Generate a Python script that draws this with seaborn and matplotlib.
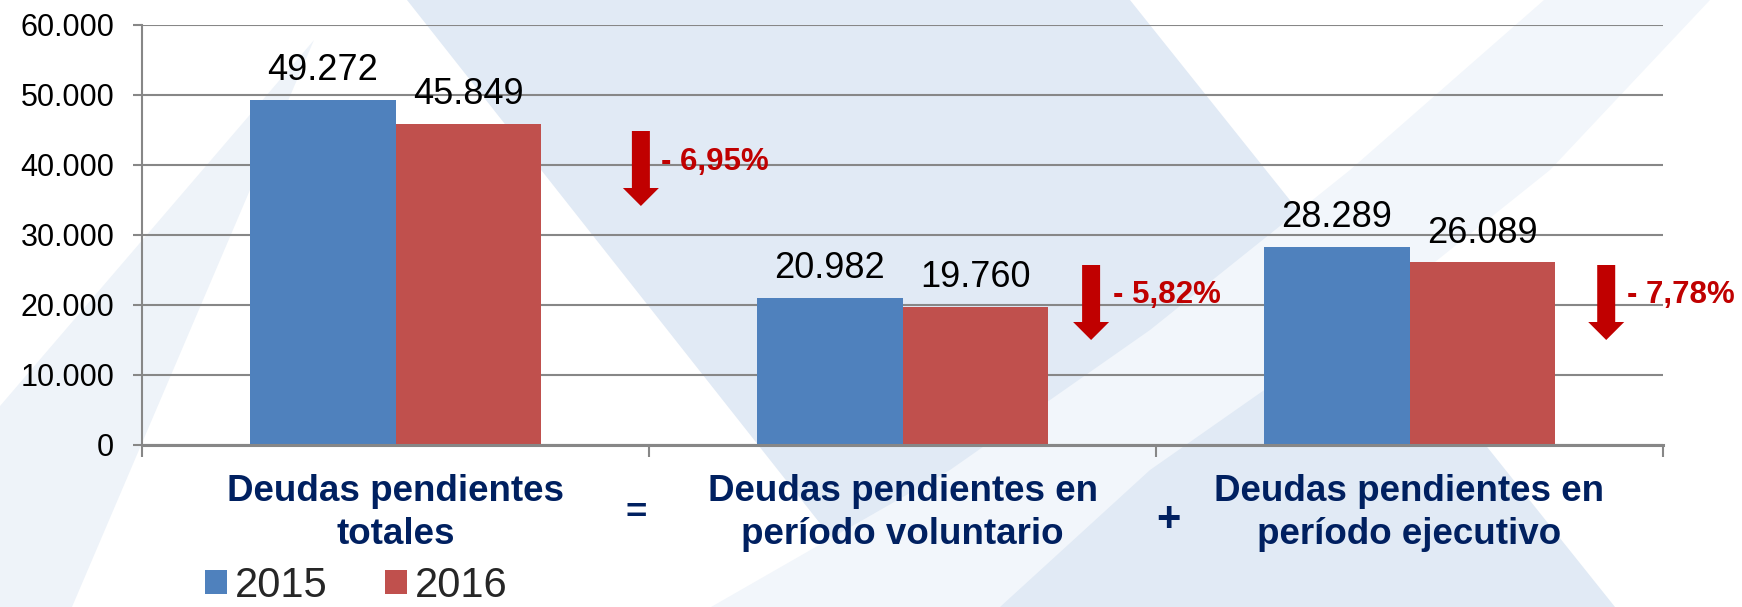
import pandas as pd
import matplotlib.pyplot as plt
import seaborn as sns
from matplotlib.patches import Polygon, Patch
from matplotlib.ticker import FuncFormatter

# datos
categorias = ["Deudas pendientes\ntotales",
              "Deudas pendientes en\nperíodo voluntario",
              "Deudas pendientes en\nperíodo ejecutivo"]
anios = ["2015", "2016"]
valores_2015 = [49272, 20982, 28289]
valores_2016 = [45849, 19760, 26089]
variaciones = ["- 6,95%", "- 5,82%", "- 7,78%"]
operadores = ["=", "+"]
yticks = [0, 10000, 20000, 30000, 40000, 50000, 60000]

colores = ["#4F81BD", "#C0504D"]
AZUL_OSCURO = "#002060"
ROJO = "#C00000"
GRIS = "#878787"

W, H = 1742, 607


def px(x, y):
    """pixel (from top-left) -> figure fraction"""
    return x / W, 1 - y / H


def miles(v, pos=None):
    return f"{int(round(v)):,}".replace(",", ".")


df = pd.DataFrame({
    "categoria": categorias * 2,
    "anio": [anios[0]] * 3 + [anios[1]] * 3,
    "valor": valores_2015 + valores_2016,
})

sns.set_theme(style="white")
plt.rcParams["font.family"] = ["Liberation Sans", "DejaVu Sans"]

fig = plt.figure(figsize=(W / 100, H / 100), dpi=100)
fig.patch.set_facecolor("white")

# decorative background bands
fondos = [
    ([(407, 0), (1130, 0), (1615, 607), (886, 607)], "#E1EAF5"),
    ([(1544, 0), (1350, 170), (1150, 330), (950, 470), (711, 607),
      (1000, 607), (1150, 470), (1350, 330), (1550, 170), (1710, 0)], "#F2F6FB"),
    ([(314, 40), (72, 607), (0, 607), (0, 406)], "#EEF3F9"),
]
for pts, col in fondos:
    fig.patches.append(Polygon([px(x, y) for x, y in pts], closed=True,
                               transform=fig.transFigure, facecolor=col,
                               edgecolor="none", zorder=-5))

ax = fig.add_axes([142 / W, 1 - 445 / H, (1663 - 142) / W, (445 - 25) / H])
ax.set_facecolor("none")

sns.barplot(data=df, x="categoria", y="valor", hue="anio", palette=colores,
            width=0.572, saturation=1, linewidth=0, legend=False, ax=ax)

ax.set_xlim(-0.5, 2.5)
ax.set_ylim(0, 60000)
ax.set_yticks(yticks)
ax.yaxis.set_major_formatter(FuncFormatter(miles))
ax.set_xlabel("")
ax.set_ylabel("")

ax.set_axisbelow(True)
ax.yaxis.grid(True, color=GRIS, linewidth=1.5)
ax.xaxis.grid(False)
for s in ["top", "right"]:
    ax.spines[s].set_visible(False)
ax.spines["left"].set_color(GRIS)
ax.spines["left"].set_linewidth(1.5)
ax.spines["bottom"].set_color(GRIS)
ax.spines["bottom"].set_linewidth(2.2)

ax.tick_params(axis="y", left=True, length=6.5, width=1.5, color=GRIS,
               pad=13.5, labelsize=22, labelcolor="black")
ax.set_xticks([0, 1, 2])
ax.set_xticklabels(categorias)
ax.set_xticks([-0.5, 0.5, 1.5, 2.5], minor=True)
ax.tick_params(axis="x", which="major", length=0, pad=21, labelsize=26.5,
               labelcolor=AZUL_OSCURO)
ax.tick_params(axis="x", which="minor", bottom=True, length=8.6, width=1.5,
               color=GRIS)
for lbl in ax.get_xticklabels():
    lbl.set_fontweight("bold")
    lbl.set_linespacing(1.3)

# value labels
for cont in ax.containers:
    ax.bar_label(cont, labels=[miles(v) for v in cont.datavalues],
                 padding=8.5, fontsize=26, color="black")

# red arrows and percentage changes
flecha_x = [0.484, 1.372, 2.388]
flecha_top = [44857, 25714, 25714]
flecha_tip = [34143, 15000, 15000]
texto_x = [0.524, 1.415, 2.429]
texto_y = [40430, 21430, 21430]
for i, txt in enumerate(variaciones):
    ax.annotate("", xy=(flecha_x[i], flecha_tip[i]),
                xytext=(flecha_x[i], flecha_top[i]),
                arrowprops=dict(arrowstyle="simple,head_length=0.648,head_width=1.296,tail_width=0.648",
                                mutation_scale=20, color=ROJO, shrinkA=0, shrinkB=0,
                                linewidth=0))
    ax.text(texto_x[i], texto_y[i], txt, ha="left", va="center",
            fontsize=22.5, fontweight="bold", color=ROJO)

# operators between categories
fig.text(*px(636, 514), operadores[0], ha="center", va="center",
         fontsize=26.5, fontweight="bold", color=AZUL_OSCURO)
fig.text(*px(1168, 520), operadores[1], ha="center", va="center",
         fontsize=30, fontweight="bold", color=AZUL_OSCURO)

# legend
handles = [Patch(facecolor=c, edgecolor="none") for c in colores]
fig.legend(handles, anios, loc="lower left", bbox_to_anchor=px(205, 606),
           ncol=2, frameon=False, fontsize=30, handlelength=0.52,
           handleheight=0.5, handletextpad=0.19, columnspacing=1.38,
           borderpad=0, borderaxespad=0)

fig.savefig("out.png", dpi=100, facecolor="white")
